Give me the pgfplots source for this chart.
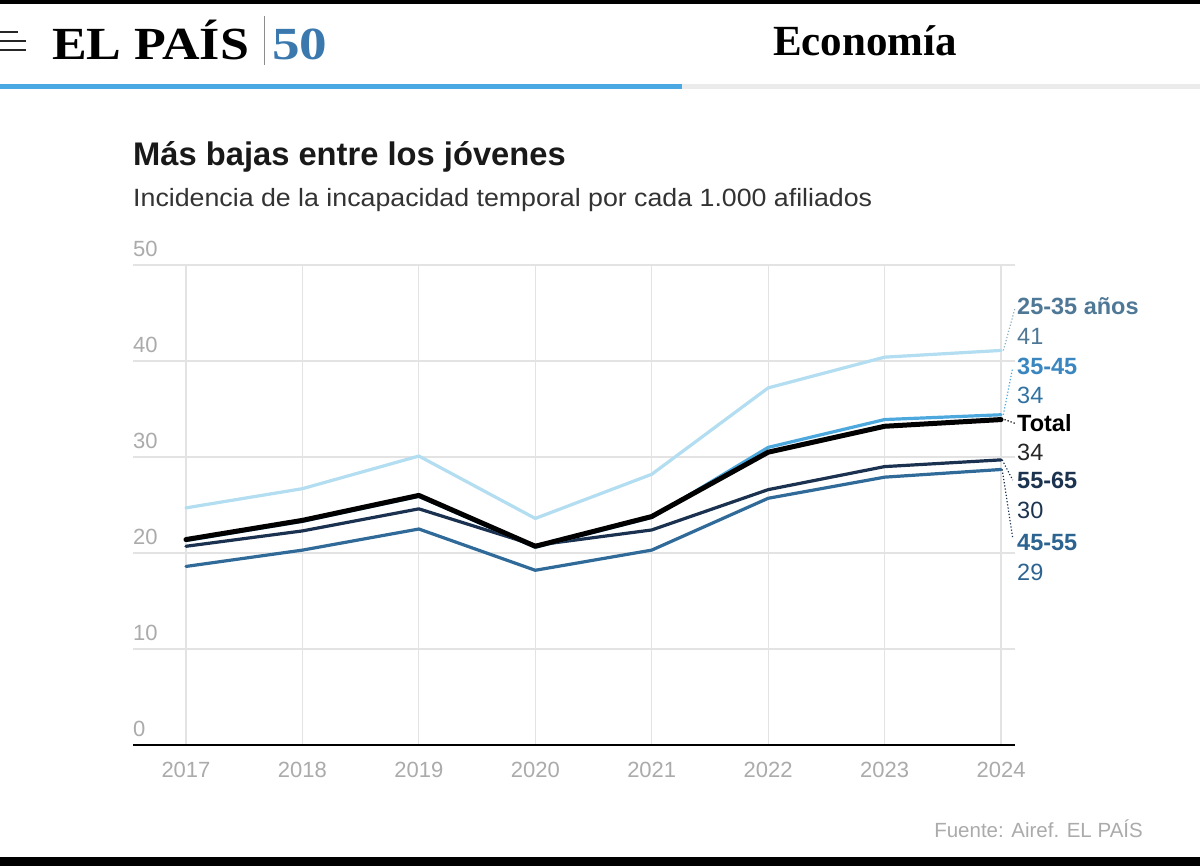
\documentclass[border=0pt]{standalone}
\usepackage{fontspec}
\setmainfont{Liberation Sans}
\newfontfamily\headserif{Liberation Serif}
\usepackage{pgfplots}
\pgfplotsset{compat=1.18}

% series colours
\definecolor{c2535}{HTML}{B3DDF0}
\definecolor{c3545}{HTML}{4DA8DE}
\definecolor{c4555}{HTML}{2F6A99}
\definecolor{c5565}{HTML}{1B3150}
% label colours
\definecolor{l2535}{HTML}{4F7896}
\definecolor{l3545}{HTML}{3A86C0}
\definecolor{l4555}{HTML}{2D6390}
\definecolor{l5565}{HTML}{1C3350}
\definecolor{gridc}{HTML}{E3E3E3}
\definecolor{tickc}{HTML}{ABABAB}
\definecolor{barblue}{HTML}{4AA9E3}
\definecolor{fifty}{HTML}{3A78AE}

\newcommand\fs[1]{\fontsize{#1pt}{#1pt}\selectfont}

\begin{document}
\begin{tikzpicture}
\path[use as bounding box] (0,0) rectangle (1200pt,-866pt);
\fill[white] (0,0) rectangle (1200pt,-866pt);
% frame bands
\fill[black] (0,0) rectangle (1200pt,-4pt);
\fill[black] (0,-857pt) rectangle (1200pt,-866pt);

% masthead
\draw[black!85, line width=2.5pt] (0,-32pt) -- (18pt,-32pt);
\draw[black!85, line width=2.5pt] (0,-41pt) -- (26pt,-41pt);
\draw[black!85, line width=2.5pt] (0,-50pt) -- (26pt,-50pt);
\node[anchor=base west, inner sep=0pt, font=\headserif\bfseries\fs{46}] at (52pt,-60pt) {\scalebox{1.13}[1]{EL PAÍS}};
\draw[black!45, line width=1pt] (264pt,-16pt) -- (264pt,-65pt);
\node[anchor=base west, inner sep=0pt, font=\headserif\bfseries\fs{46}, text=fifty] at (272pt,-60pt) {\scalebox{1.2}[1]{50}};
\node[anchor=base west, inner sep=0pt, font=\headserif\bfseries\fs{43}] at (773pt,-56pt) {Economía};
\fill[barblue] (0,-84pt) rectangle (682pt,-89pt);
\fill[black!8] (682pt,-84pt) rectangle (1200pt,-89pt);

% titles
\node[anchor=base west, inner sep=0pt, font=\bfseries\fs{32.7}, text=black!90] at (133pt,-166pt) {Más bajas entre los jóvenes};
\node[anchor=base west, inner sep=0pt, font=\fs{25}, text=black!80] at (133pt,-207pt) {\scalebox{1.07}[1]{Incidencia de la incapacidad temporal por cada 1.000 afiliados}};

\begin{axis}[
  at={(133pt,-745pt)}, anchor=south west,
  scale only axis, width=882pt, height=480pt,
  xmin=2016.545, xmax=2024.12, ymin=0, ymax=50,
  clip=false,
  axis line style={draw=none},
  xtick={2017,2018,2019,2020,2021,2022,2023,2024},
  xticklabels={2017,2018,2019,2020,2021,2022,2023,2024},
  ytick={0,10,20,30,40,50},
  yticklabels={0,10,20,30,40,50},
  xmajorgrids, ymajorgrids,
  grid style={gridc, line width=1.2pt},
  major tick length=0pt,
  tick label style={font=\fs{22}, text=tickc, inner sep=0pt},
  xticklabel style={anchor=base, yshift=-32pt},
  yticklabel style={anchor=base west, yshift=8.5pt},
  every axis plot/.append style={line join=round, line cap=round},
]
\draw[black, line width=2pt] (axis cs:2016.545,0) -- (axis cs:2024.12,0);

% 25-35 años
\addplot[c2535, line width=3.2pt] coordinates {
 (2017,24.7) (2018,26.7) (2019,30.1) (2020,23.6) (2021,28.2) (2022,37.2) (2023,40.4) (2024,41.1)};
% 45-55
\addplot[c4555, line width=3.2pt] coordinates {
 (2017,18.6) (2018,20.3) (2019,22.5) (2020,18.2) (2021,20.3) (2022,25.7) (2023,27.9) (2024,28.7)};
% 55-65
\addplot[c5565, line width=3.2pt] coordinates {
 (2017,20.7) (2018,22.3) (2019,24.6) (2020,20.8) (2021,22.4) (2022,26.6) (2023,29.0) (2024,29.7)};
% 35-45
\addplot[c3545, line width=3.2pt] coordinates {
 (2017,21.3) (2018,23.3) (2019,25.9) (2020,20.6) (2021,23.7) (2022,31.0) (2023,33.9) (2024,34.4)};
% Total
\addplot[black, line width=5pt] coordinates {
 (2017,21.4) (2018,23.4) (2019,26.0) (2020,20.7) (2021,23.8) (2022,30.5) (2023,33.2) (2024,33.9)};

% leader lines
\tikzset{lead/.style={line width=1.2pt, dash pattern=on 1.2pt off 2pt}}
\draw[lead, c2535!80!black] (axis cs:2024.02,41.1) -- (axis cs:2024.12,45.5);
\draw[lead, c3545] (axis cs:2024.02,34.4) -- (axis cs:2024.10,39.3);
\draw[lead, black] (axis cs:2024.03,33.9) -- (axis cs:2024.12,33.5);
\draw[lead, c5565] (axis cs:2024.01,29.7) -- (axis cs:2024.10,27.6);
\draw[lead, c5565] (axis cs:2024.01,28.7) -- (axis cs:2024.10,21.6);

% end labels
\tikzset{lab/.style={anchor=base west, inner sep=0pt, font=\bfseries\fs{23.5}},
         val/.style={anchor=base west, inner sep=0pt, font=\fs{23.5}}}
\node[lab, text=l2535] at (axis cs:2024.137,44.82) {25-35 años};
\node[val, text=l2535] at (axis cs:2024.137,41.70) {41};
\node[lab, text=l3545] at (axis cs:2024.137,38.57) {35-45};
\node[val, text=l3545!85!black] at (axis cs:2024.137,35.55) {34};
\node[lab, text=black] at (axis cs:2024.137,32.64) {Total};
\node[val, text=black!85] at (axis cs:2024.137,29.61) {34};
\node[lab, text=l5565] at (axis cs:2024.137,26.70) {55-65};
\node[val, text=l5565] at (axis cs:2024.137,23.57) {30};
\node[lab, text=l4555] at (axis cs:2024.137,20.24) {45-55};
\node[val, text=l4555] at (axis cs:2024.137,17.11) {29};
\end{axis}

\node[anchor=base east, inner sep=0pt, font=\fs{20.5}, text=tickc] at (1143pt,-837pt) {Fuente: Airef. EL PAÍS};
\end{tikzpicture}
\end{document}
